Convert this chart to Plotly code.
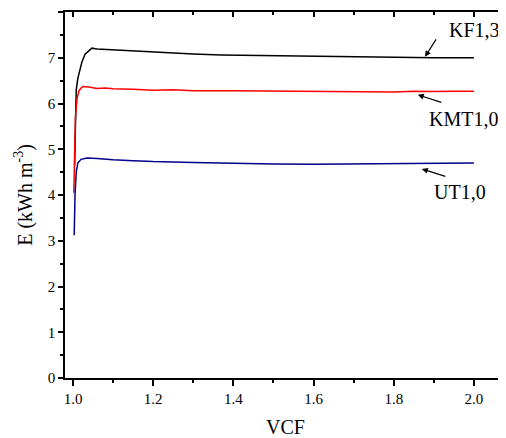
import plotly.graph_objects as go

# KF1,3 (black)
kf_x = [1.004, 1.005, 1.006, 1.008, 1.012, 1.018, 1.022, 1.030, 1.040, 1.047, 1.060, 1.080, 1.100, 1.120,
        1.150, 1.200, 1.250, 1.300, 1.370, 1.450, 1.500, 1.600, 1.700, 1.800, 1.900, 2.000]
kf_y = [4.65, 5.40, 5.95, 6.30, 6.55, 6.78, 6.90, 7.08, 7.17, 7.21, 7.19, 7.18, 7.18, 7.17,
        7.15, 7.12, 7.10, 7.08, 7.06, 7.05, 7.04, 7.03, 7.01, 7.00, 7.00, 7.00]

# KMT1,0 (red)
kmt_x = [1.002, 1.004, 1.006, 1.010, 1.015, 1.020, 1.025, 1.040, 1.060, 1.080, 1.100, 1.150, 1.200,
         1.250, 1.300, 1.400, 1.500, 1.600, 1.700, 1.800, 1.850, 1.900, 1.950, 2.000]
kmt_y = [4.05, 5.00, 5.70, 6.10, 6.28, 6.34, 6.37, 6.36, 6.33, 6.34, 6.32, 6.31, 6.29,
         6.30, 6.28, 6.28, 6.27, 6.27, 6.26, 6.25, 6.27, 6.26, 6.27, 6.27]

# UT1,0 (blue)
ut_x = [1.003, 1.005, 1.008, 1.012, 1.020, 1.035, 1.060, 1.100, 1.150, 1.200, 1.300, 1.400,
        1.500, 1.600, 1.700, 1.800, 1.900, 2.000]
ut_y = [3.12, 4.00, 4.50, 4.70, 4.78, 4.81, 4.80, 4.77, 4.75, 4.73, 4.71, 4.69,
        4.68, 4.67, 4.68, 4.68, 4.69, 4.70]

x_ticks = [1.0, 1.2, 1.4, 1.6, 1.8, 2.0]
x_tick_labels = ["1.0", "1.2", "1.4", "1.6", "1.8", "2.0"]
y_ticks = [0, 1, 2, 3, 4, 5, 6, 7, 8]

font = "Times New Roman, Liberation Serif, DejaVu Serif, serif"

fig = go.Figure()
fig.add_trace(go.Scatter(x=kf_x, y=kf_y, mode="lines", line=dict(color="black", width=1.5), showlegend=False))
fig.add_trace(go.Scatter(x=kmt_x, y=kmt_y, mode="lines", line=dict(color="#FF0000", width=1.5), showlegend=False))
fig.add_trace(go.Scatter(x=ut_x, y=ut_y, mode="lines", line=dict(color="#00008B", width=1.5), showlegend=False))
# invisible trace for top axis
fig.add_trace(go.Scatter(x=[1.0, 2.0], y=[0, 0], xaxis="x2", mode="lines",
                         line=dict(width=0), hoverinfo="skip", showlegend=False))

fig.update_layout(
    width=498, height=430,
    margin=dict(l=57, r=0, t=4, b=60),
    plot_bgcolor="white", paper_bgcolor="white",
    font=dict(family=font, size=15, color="black"),
    xaxis=dict(
        range=[0.98, 2.08], tickvals=x_ticks, ticktext=x_tick_labels,
        showgrid=False, zeroline=False, showline=True, linecolor="black", linewidth=1.5,
        ticks="outside", ticklen=6, tickwidth=1.5, tickcolor="black",
        minor=dict(dtick=0.1, ticks="outside", ticklen=3, tickwidth=1.5, tickcolor="black"),
        title=dict(text="VCF", font=dict(family=font, size=20), standoff=14),
        tickfont=dict(family=font, size=15),
        automargin=False,
    ),
    xaxis2=dict(
        overlaying="x", side="top", matches="x", range=[0.98, 2.08],
        tickvals=x_ticks, showticklabels=False,
        showgrid=False, zeroline=False, showline=True, linecolor="black", linewidth=1.5,
        ticks="inside", ticklen=5, tickwidth=1.5, tickcolor="black",
        minor=dict(dtick=0.1, ticks="inside", ticklen=3, tickwidth=1.5, tickcolor="black"),
    ),
    yaxis=dict(
        range=[0, 8], tickvals=y_ticks,
        showgrid=False, zeroline=False, showline=True, linecolor="black", linewidth=1.5,
        ticks="outside", ticklen=5, tickwidth=1.5, tickcolor="black",
        minor=dict(dtick=0.5, ticks="outside", ticklen=3, tickwidth=1.5, tickcolor="black"),
        title=dict(text="E (kWh m<sup>-3</sup>)", font=dict(family=font, size=20), standoff=10),
        tickfont=dict(family=font, size=15),
        automargin=False,
    ),
)

# text labels
fig.add_annotation(x=2.002, y=7.61, text="KF1,3", showarrow=False, font=dict(family=font, size=20))
fig.add_annotation(x=1.975, y=5.66, text="KMT1,0", showarrow=False, font=dict(family=font, size=20))
fig.add_annotation(x=1.965, y=4.07, text="UT1,0", showarrow=False, font=dict(family=font, size=20))

# arrows
arrow_style = dict(showarrow=True, text="", arrowhead=2, arrowsize=1, arrowwidth=1.2, arrowcolor="black")
fig.add_annotation(x=1.878, y=7.02, ax=12, ay=-19, **arrow_style)
fig.add_annotation(x=1.860, y=6.19, ax=25, ay=8, **arrow_style)
fig.add_annotation(x=1.870, y=4.57, ax=25, ay=8, **arrow_style)

fig.write_html("out.html")
